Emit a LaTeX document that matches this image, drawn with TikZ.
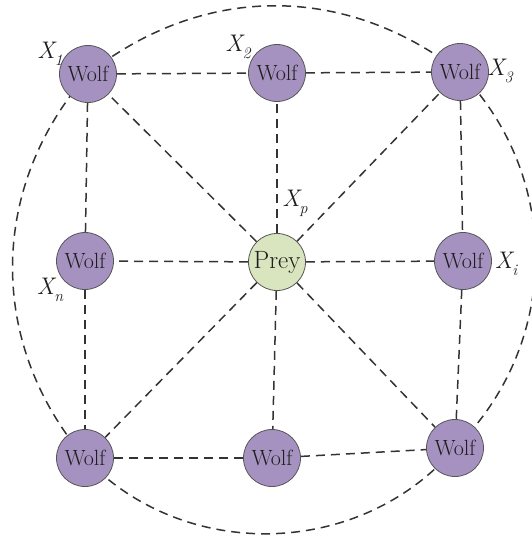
\documentclass[tikz,border=0pt]{standalone}
\usetikzlibrary{backgrounds}

\definecolor{wolffill}{HTML}{A692C0}
\definecolor{preyfill}{HTML}{D9E5BE}
\definecolor{rim}{HTML}{555555}
\definecolor{link}{HTML}{333333}
\definecolor{ink}{HTML}{1E1E1E}

% position label: italic X with an italic subscript
\newcommand{\poslbl}[1]{\itshape X\raisebox{-0.28em}{\fontsize{16}{16}\selectfont\itshape #1}}

\tikzset{
  wolf/.style={circle, draw=rim, line width=0.8pt, fill=wolffill,
    minimum size=57pt, inner sep=0pt, text=ink,
    font=\rmfamily\fontsize{22}{22}\selectfont},
  prey/.style={circle, draw=rim, line width=0.8pt, fill=preyfill,
    minimum size=57pt, inner sep=0pt, text=ink,
    font=\rmfamily\fontsize{25}{25}\selectfont},
  link/.style={draw=link, line width=1.5pt, dash pattern=on 9pt off 6pt},
  poslabel/.style={inner sep=0pt, text=ink, font=\rmfamily\fontsize{24}{24}\selectfont}
}

\begin{document}
\begin{tikzpicture}[x=1pt, y=-1pt]
  \useasboundingbox (0,0) rectangle (532,536);

  % wolves and prey
  \node[wolf] (w1) at (88,74)  {Wolf};
  \node[wolf] (w2) at (277,73) {Wolf};
  \node[wolf] (w3) at (460,72) {Wolf};
  \node[wolf] (w4) at (85,261) {Wolf};
  \node[prey] (p)  at (277,262) {Prey};
  \node[wolf] (w6) at (463,261) {Wolf};
  \node[wolf] (w7) at (85,458) {Wolf};
  \node[wolf] (w8) at (272,458) {Wolf};
  \node[wolf] (w9) at (455,448) {Wolf};

  % position labels
  \node[poslabel] (l1) at (50,54)   {\poslbl{1}};
  \node[poslabel] (l2) at (238,47)  {\poslbl{2}};
  \node[poslabel] (l3) at (500,71)  {\poslbl{3}};
  \node[poslabel] (lp) at (295,203) {\poslbl{p}};
  \node[poslabel] (li) at (506,264) {\poslbl{i}};
  \node[poslabel] (ln) at (50,290)  {\poslbl{n}};

  % grid of dashed links
  \draw[link] (w1) -- (w2);
  \draw[link] (w2) -- (w3);
  \draw[link] (w1) -- (w4);
  \draw[link] (w4) -- (w7);
  \draw[link] (w7) -- (w8);
  \draw[link] (w8) -- (w9);
  \draw[link] (w3) -- (w6);
  \draw[link] (w6) -- (w9);
  \foreach \w in {w1,w2,w3,w4,w6,w7,w8,w9}
    \draw[link] (p) -- (\w);

  % encircling arcs through the corner wolves
  \begin{scope}[on background layer]
    \draw[link] (w1.center) to[bend left=38] (w3.center);
    \draw[link] (w3.center) to[bend left=45] (w9.center);
    \draw[link] (w9.center) to[bend left=48] (w7.center);
    \draw[link] (w7.center) to[bend left=41] (w1.center);
  \end{scope}
\end{tikzpicture}
\end{document}
